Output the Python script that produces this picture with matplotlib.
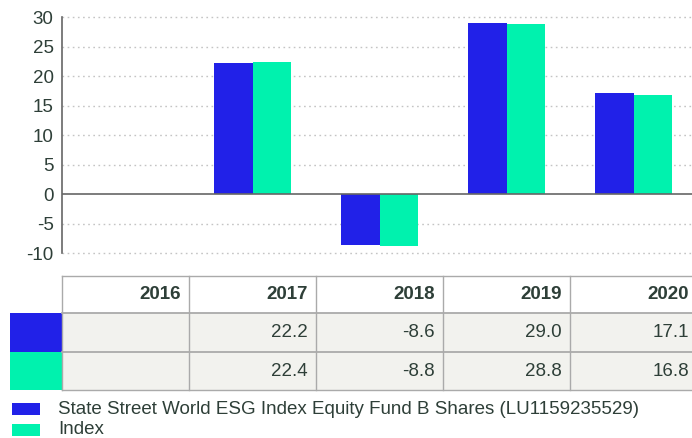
import matplotlib
matplotlib.use("Agg")
import matplotlib.pyplot as plt
from matplotlib.patches import Rectangle
import numpy as np

plt.rcParams['font.family'] = ['Liberation Sans', 'DejaVu Sans']

years = ["2016", "2017", "2018", "2019", "2020"]
fund = [None, 22.2, -8.6, 29.0, 17.1]
index = [None, 22.4, -8.8, 28.8, 16.8]
series_names = ["State Street World ESG Index Equity Fund B Shares (LU1159235529)", "Index"]
yticks = [-10, -5, 0, 5, 10, 15, 20, 25, 30]

BLUE = '#2121E8'
GREEN = '#00F2AE'
TXT = '#2E3F38'
GRID = '#C4C4C4'
CELL = '#F2F2EE'
LINE = '#AAAAAA'
FS = 13.5

W, H = 692, 438
fig = plt.figure(figsize=(W/100, H/100), dpi=100)

def fx(px): return px / W
def fy(py): return 1 - py / H

ax_left, ax_right, ax_top, ax_bot = 62, 692, 17, 253
ax = fig.add_axes([fx(ax_left), fy(ax_bot), fx(ax_right - ax_left), (ax_bot - ax_top) / H])
ax.set_ylim(-10, 30)
ax.set_xlim(-0.5, 4.46)
ax.set_yticks(yticks)
ax.set_yticklabels([str(t) for t in yticks], fontsize=FS, color=TXT)
ax.set_xticks([])
for s in ['top', 'right', 'bottom']:
    ax.spines[s].set_visible(False)
ax.spines['left'].set_color('#666666')
ax.spines['left'].set_linewidth(1.2)
ax.tick_params(axis='y', length=0, pad=6)
for t in yticks:
    if t != 0:
        ax.axhline(t, color=GRID, lw=1, ls=(0, (1.2, 2.5)), zorder=0, clip_on=False)
ax.axhline(0, color='#666666', lw=1.2, zorder=3)

x = np.arange(len(years))
bw = 0.3
fv = [v if v is not None else 0 for v in fund]
iv = [v if v is not None else 0 for v in index]
ax.bar(x - bw/2, fv, width=bw, color=BLUE, zorder=2)
ax.bar(x + bw/2, iv, width=bw, color=GREEN, zorder=2)

# table
rows_y = [276, 313, 352, 390]
for r in range(1, 3):
    fig.patches.append(Rectangle((fx(62), fy(rows_y[r+1])), fx(700 - 62), (rows_y[r+1]-rows_y[r]) / H,
                                 transform=fig.transFigure, facecolor=CELL, edgecolor='none', zorder=0))
fig.patches.append(Rectangle((fx(10), fy(352)), fx(52), (352-313)/H, transform=fig.transFigure,
                             facecolor=BLUE, edgecolor='none', zorder=1))
fig.patches.append(Rectangle((fx(10), fy(390)), fx(52), (390-352)/H, transform=fig.transFigure,
                             facecolor=GREEN, edgecolor='none', zorder=1))
for i, yy in enumerate(rows_y):
    fig.add_artist(plt.Line2D([fx(62), 1.0], [fy(yy), fy(yy)], transform=fig.transFigure,
                              color=LINE, lw=1.3 if i in (1, 2) else 1.0))
for k in range(len(years)):
    fig.add_artist(plt.Line2D([fx(62 + 127*k)] * 2, [fy(276), fy(390)], transform=fig.transFigure,
                              color=LINE, lw=1.0))

def fmt(v):
    return "" if v is None else f"{v:.1f}"

for k, yr in enumerate(years):
    xr_px = 62 + 127*(k+1) - 8
    if xr_px > 689:
        xr_px = 689
    fig.text(fx(xr_px), fy((276+313)/2), yr, ha='right', va='center', fontsize=FS,
             fontweight='bold', color=TXT)
    fig.text(fx(xr_px), fy((313+352)/2), fmt(fund[k]), ha='right', va='center', fontsize=FS, color=TXT)
    fig.text(fx(xr_px), fy((352+390)/2), fmt(index[k]), ha='right', va='center', fontsize=FS, color=TXT)

# legend
for i, (name, col) in enumerate(zip(series_names, [BLUE, GREEN])):
    yc = 409 + 21*i
    fig.patches.append(Rectangle((fx(12), fy(yc+6)), fx(28), 12/H, transform=fig.transFigure,
                                 facecolor=col, edgecolor='none'))
    fig.text(fx(58), fy(yc), name, ha='left', va='center', fontsize=FS, color=TXT)

fig.savefig("out.png", dpi=100)
